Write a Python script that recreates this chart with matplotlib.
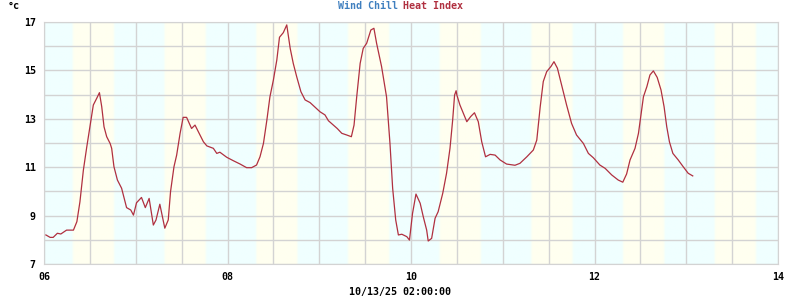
import matplotlib
matplotlib.use('Agg')
import matplotlib.pyplot as plt
import matplotlib.colors as mcolors
import numpy as np

# hours since 10/06 00:00 and heat index (deg C)
hours = [0.5, 1.6, 2.4, 3.5, 4.4, 5.9, 7.0, 7.7, 8.6, 9.4, 10.3, 11.2, 12.0, 12.9,
         13.8, 14.5, 15.1, 15.7, 16.4, 17.3, 17.7, 18.3, 19.2, 20.3, 21.6, 22.7,
         23.4, 24.2, 25.5, 26.5, 27.5, 28.6, 29.3, 30.3, 31.6, 32.5, 33.1, 34.0,
         34.7, 35.6, 36.4, 37.3, 38.6, 39.5, 40.8, 41.7, 42.6, 44.3, 45.2, 46.0,
         47.8, 49.5, 51.3, 53.0, 54.3, 55.6, 56.5, 57.4, 58.3, 59.1, 60.0, 60.9,
         61.6, 62.6, 63.5, 64.4, 65.2, 66.1, 67.2, 68.3, 69.6, 70.9, 72.2, 73.5,
         74.4, 75.7, 76.7, 77.9, 79.2, 80.4, 81.1, 81.8, 82.7, 83.5, 84.4, 85.5,
         86.3, 87.0, 88.3, 89.6, 90.5, 91.2, 92.0, 92.7, 93.6, 94.9, 95.6, 96.4,
         97.3, 98.4, 99.2, 100.1, 100.5, 101.4, 102.3, 103.1, 104.3, 105.3, 106.2,
         106.9, 107.4, 107.8, 108.0, 108.8, 109.7, 110.6, 111.6, 112.6, 113.6,
         114.5, 115.5, 116.7, 118.0, 119.3, 121.0, 123.2, 124.5, 126.3, 128.0,
         128.9, 129.8, 130.6, 131.5, 132.6, 133.4, 134.3, 135.4, 136.7, 138.0,
         139.3, 141.1, 142.4, 143.7, 145.4, 146.8, 148.5, 150.2, 151.4, 152.4,
         153.3, 154.6, 155.5, 156.1, 156.8, 157.7, 158.5, 159.4, 160.4, 161.4,
         162.2, 162.9, 163.6, 164.5, 165.9, 167.2, 168.5, 169.7]
heat_index = [8.2, 8.1, 8.1, 8.27, 8.24, 8.4, 8.4, 8.4, 8.75, 9.57, 10.88, 11.85, 12.67,
              13.57, 13.85, 14.08, 13.5, 12.67, 12.26, 11.98, 11.78, 11.02, 10.47,
              10.13, 9.33, 9.23, 9.02, 9.53, 9.75, 9.33, 9.71, 8.61, 8.82, 9.47, 8.48,
              8.82, 9.99, 11.02, 11.5, 12.4, 13.06, 13.06, 12.6, 12.74, 12.33, 12.05,
              11.88, 11.78, 11.57, 11.62, 11.41, 11.27, 11.13, 10.98, 10.98, 11.09,
              11.43, 11.98, 12.95, 13.91, 14.6, 15.43, 16.37, 16.56, 16.88, 15.91,
              15.29, 14.74, 14.12, 13.78, 13.67, 13.48, 13.29, 13.16, 12.92, 12.74,
              12.6, 12.4, 12.33, 12.26, 12.74, 13.91, 15.29, 15.91, 16.12, 16.67,
              16.74, 16.12, 15.16, 13.91, 11.98, 10.13, 8.82, 8.2, 8.23, 8.13, 7.99,
              9.09, 9.89, 9.51, 8.96, 8.4, 7.95, 8.06, 8.89, 9.16, 9.92, 10.75, 11.78,
              12.95, 13.98, 14.16, 13.98, 13.57, 13.23, 12.88, 13.09, 13.25, 12.88,
              12.05, 11.43, 11.53, 11.5, 11.3, 11.13, 11.08, 11.16, 11.43, 11.71,
              12.12, 13.5, 14.54, 14.95, 15.16, 15.36, 15.09, 14.4, 13.57, 12.81,
              12.33, 11.98, 11.57, 11.39, 11.09, 10.95, 10.68, 10.47, 10.38, 10.72,
              11.3, 11.78, 12.4, 13.09, 13.91, 14.33, 14.81, 14.98, 14.71, 14.19,
              13.5, 12.67, 12.05, 11.57, 11.3, 11.02, 10.75, 10.64]

x_ticks = [6, 8, 10, 12, 14]
x_labels = ['06', '08', '10', '12', '14']
y_ticks = [7, 9, 11, 13, 15, 17]
timestamp = '10/13/25 02:00:00'

font = 'DejaVu Sans Mono'
fs = 7.2

fig = plt.figure(figsize=(8, 3), dpi=100)
ax = fig.add_axes([44 / 800, 36 / 300, 734 / 800, 242 / 300])

# day / night shading
night = np.array(mcolors.to_rgb('azure'))
day = np.array(mcolors.to_rgb('ivory'))
xs = np.linspace(6, 14, 2000)
h = (xs % 1) * 24
w = np.clip((h - 7.2) / 0.6, 0, 1) * np.clip((18.6 - h) / 0.6, 0, 1)
img = night[None, :] * (1 - w[:, None]) + day[None, :] * w[:, None]
ax.imshow(img[None, :, :], extent=(6, 14, 7, 17), aspect='auto', zorder=0,
          interpolation='bilinear')

days = 6 + np.array(hours) / 24
ax.plot(days, heat_index, color='#b03040', lw=0.9, zorder=3)

ax.set_xlim(6, 14)
ax.set_ylim(7, 17)
ax.set_xticks(x_ticks)
ax.set_xticklabels(x_labels)
ax.set_xticks(np.arange(6, 14.01, 0.5), minor=True)
ax.set_yticks(y_ticks)
ax.set_yticks(np.arange(7, 17.01, 1), minor=True)
ax.set_axisbelow(True)
ax.grid(True, which='both', color='#d3d3d3', lw=1.0)
ax.tick_params(which='both', length=0)
ax.tick_params(axis='x', pad=6)
ax.tick_params(axis='y', pad=6)
for lab in ax.get_xticklabels() + ax.get_yticklabels():
    lab.set_fontfamily(font)
    lab.set_fontweight('bold')
    lab.set_fontsize(fs)
for s in ax.spines.values():
    s.set_color('#d3d3d3')

fig.text(398 / 800, 1 - 6 / 300, 'Wind Chill', color='#3f7fbf', ha='right', va='center',
         family=font, weight='bold', fontsize=fs)
fig.text(403 / 800, 1 - 6 / 300, 'Heat Index', color='#b03040', ha='left', va='center',
         family=font, weight='bold', fontsize=fs)
fig.text(8 / 800, 1 - 6 / 300, '°c', color='black', ha='left', va='center',
         family=font, weight='bold', fontsize=fs)
fig.text(400 / 800, 1 - 292 / 300, timestamp, color='black', ha='center', va='center',
         family=font, weight='bold', fontsize=fs)

fig.savefig('out.png', dpi=100)
